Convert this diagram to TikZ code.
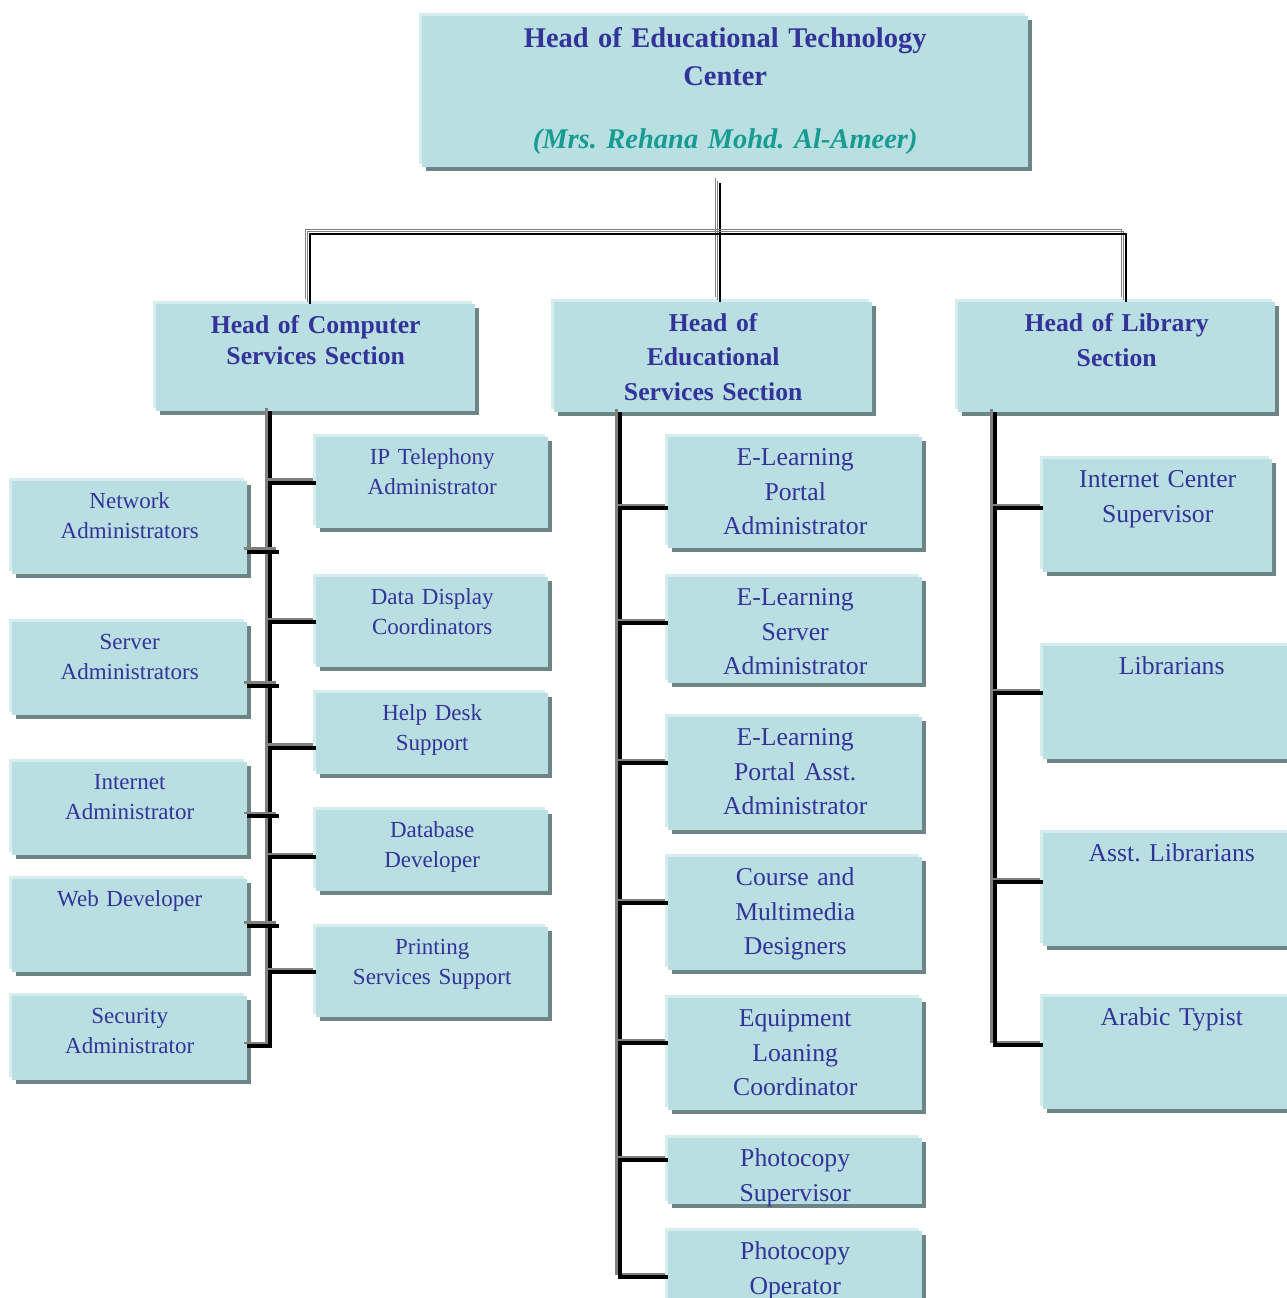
\documentclass[tikz,border=0pt]{standalone}
\usepackage{fontspec}
\setmainfont{Liberation Serif}
\usetikzlibrary{shadows,positioning}
\definecolor{boxfill}{HTML}{BADFE2}
\definecolor{boxlight}{HTML}{D6EDEF}
\definecolor{boxshade}{HTML}{6E8587}
\definecolor{navy}{HTML}{333399}
\definecolor{tealname}{HTML}{179C92}
\definecolor{connshade}{HTML}{808080}
\frenchspacing

\begin{document}
\begin{tikzpicture}[x=1pt,y=-1pt,
  orgbox/.style={fill=boxfill, inner sep=0pt, anchor=north west, align=center, text=navy,
    general shadow={fill=boxshade, shadow xshift=4pt, shadow yshift=-4pt},
    general shadow={fill=boxlight, shadow xshift=-3pt, shadow yshift=3pt}},
  topbox/.style={orgbox, font=\bfseries\fontsize{28.5}{38}\selectfont},
  headbox/.style={orgbox, font=\bfseries\fontsize{25.7}{#1}\selectfont, text height=29pt},
  smallbox/.style={orgbox, font=\fontsize{23}{30}\selectfont, text height=27pt},
  midbox/.style={orgbox, font=\fontsize{25.7}{34.5}\selectfont, text height=28.5pt},
  conn/.style={line width=4pt, preaction={draw=connshade, line width=2.5pt,
    transform canvas={shift={(-3.5pt,3pt)}}}},
  tieline/.style={line width=1.2pt,
    preaction={draw=connshade, transform canvas={shift={(-5pt,5pt)}}},
    preaction={draw=connshade, transform canvas={shift={(-2.5pt,2.5pt)}}}}]
\useasboundingbox (0,0) rectangle (1287,1298);
\clip (0,0) rectangle (1287,1298);

% top of the chart
\node[topbox, text width=606pt, text height=31.5pt, text depth=119.5pt] (top) at (422,16)
  {Head of Educational Technology\\Center\\[25pt]{\color{tealname}\itshape (Mrs. Rehana Mohd. Al-Ameer)}};

% section heads
\node[headbox=31, text width=319pt, text depth=78pt] (comp) at (156,304) {Head of Computer\\Services Section};
\node[headbox=34.5, text width=318pt, text depth=81pt] (edu) at (554,302) {Head of\\Educational\\Services Section};
\node[headbox=35, text width=317pt, text depth=81pt] (lib) at (958,302) {Head of Library\\Section};

% computer services
\node[smallbox, text width=232pt, text depth=64pt] (ip) at (316,437) {IP Telephony\\Administrator};
\node[smallbox, text width=232pt, text depth=63pt] (dd) at (316,577) {Data Display\\Coordinators};
\node[smallbox, text width=232pt, text depth=54pt] (help) at (316,693) {Help Desk\\Support};
\node[smallbox, text width=232pt, text depth=54pt] (dbd) at (316,810) {Database\\Developer};
\node[smallbox, text width=232pt, text depth=63pt] (prt) at (316,927) {Printing\\Services Support};
\node[smallbox, text width=235pt, text depth=66pt] (net) at (12,481) {Network\\Administrators};
\node[smallbox, text width=235pt, text depth=66pt] (srv) at (12,622) {Server\\Administrators};
\node[smallbox, text width=235pt, text depth=66pt] (ina) at (12,762) {Internet\\Administrator};
\node[smallbox, text width=235pt, text depth=66pt] (web) at (12,879) {Web Developer};
\node[smallbox, text width=235pt, text depth=57pt] (sec) at (12,996) {Security\\Administrator};

% educational services
\node[midbox, text width=254pt, text depth=82.5pt] (elp) at (668,437) {E-Learning\\Portal\\Administrator};
\node[midbox, text width=254pt, text depth=77.5pt] (els) at (668,577) {E-Learning\\Server\\Administrator};
\node[midbox, text width=254pt, text depth=84.5pt] (ela) at (668,717) {E-Learning\\Portal Asst.\\Administrator};
\node[midbox, text width=254pt, text depth=84.5pt] (cmd) at (668,857) {Course and\\Multimedia\\Designers};
\node[midbox, text width=254pt, text depth=83.5pt] (elc) at (668,998) {Equipment\\Loaning\\Coordinator};
\node[midbox, text width=254pt, text depth=37.5pt] (pcs) at (668,1138) {Photocopy\\Supervisor};
\node[midbox, text width=254pt, text depth=51.5pt] (pco) at (668,1231) {Photocopy\\Operator};

% library
\node[midbox, text width=229pt, text depth=84.5pt] (ics) at (1043,459) {Internet Center\\Supervisor};
\node[midbox, text width=257pt, text depth=84.5pt] (lbr) at (1043,646) {Librarians};
\node[midbox, text width=257pt, text depth=84.5pt] (alb) at (1043,833) {Asst. Librarians};
\node[midbox, text width=257pt, text depth=83.5pt] (typ) at (1043,997) {Arabic Typist};

% top connectors
\coordinate (hubtop) at (720,183);
\coordinate (hub) at (720,234);
\coordinate (hl) at (310,234);
\coordinate (hr) at (1126,234);
\draw[tieline] (hubtop) -- (hub |- edu.north);
\draw[tieline] (hl |- comp.north) -- (hl) -- (hr) -- (hr |- lib.north);

% trunks
\coordinate (ta) at ([xshift=-45.5pt]comp.south);
\coordinate (tax) at ([xshift=9pt]ta);
\coordinate (tb) at ([xshift=-93pt]edu.south);
\coordinate (tc) at ([xshift=-121.5pt]lib.south);

\draw[conn] (ta) |- ([yshift=-8pt]sec.east);
\draw[conn] (ta |- ip.west) -- (ip.west);
\draw[conn] (ta |- dd.west) -- (dd.west);
\draw[conn] ([yshift=-14pt]help.west) coordinate (r3) -- (ta |- r3);
\draw[conn] ([yshift=-6.5pt]dbd.west) coordinate (r4) -- (ta |- r4);
\draw[conn] (ta |- prt.west) -- (prt.west);
\draw[conn] ([yshift=-24pt]net.east) coordinate (l1) -- (tax |- l1);
\draw[conn] ([yshift=-17pt]srv.east) coordinate (l2) -- (tax |- l2);
\draw[conn] ([yshift=-7.5pt]ina.east) coordinate (l3) -- (tax |- l3);
\draw[conn] (web.east) -- (tax |- web.east);

\draw[conn] (tb) |- ([yshift=-6pt]pco.west);
\draw[conn] ([yshift=-15.5pt]elp.west) coordinate (m1) -- (tb |- m1);
\draw[conn] ([yshift=7pt]els.west) coordinate (m2) -- (tb |- m2);
\draw[conn] ([yshift=10.5pt]ela.west) coordinate (m3) -- (tb |- m3);
\draw[conn] ([yshift=10.5pt]cmd.west) coordinate (m4) -- (tb |- m4);
\draw[conn] ([yshift=11pt]elc.west) coordinate (m5) -- (tb |- m5);
\draw[conn] ([yshift=11pt]pcs.west) coordinate (m6) -- (tb |- m6);

\draw[conn] (tc) |- ([yshift=8pt]typ.west);
\draw[conn] ([yshift=7.5pt]ics.west) coordinate (k1) -- (tc |- k1);
\draw[conn] ([yshift=9.5pt]lbr.west) coordinate (k2) -- (tc |- k2);
\draw[conn] ([yshift=7.5pt]alb.west) coordinate (k3) -- (tc |- k3);
\end{tikzpicture}
\end{document}
